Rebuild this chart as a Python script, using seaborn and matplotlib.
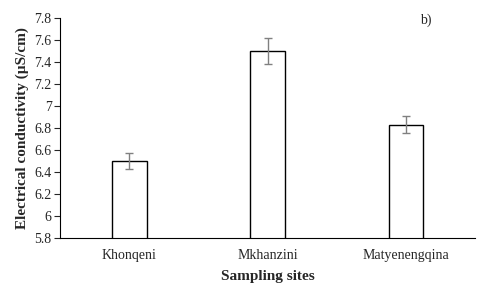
import matplotlib
matplotlib.use("Agg")
import matplotlib.pyplot as plt
import seaborn as sns
import pandas as pd

sites = ["Khonqeni", "Mkhanzini", "Matyenengqina"]
conductivity = [6.50, 7.50, 6.83]
errors = [0.07, 0.12, 0.08]
yticks = [5.8, 6.0, 6.2, 6.4, 6.6, 6.8, 7.0, 7.2, 7.4, 7.6, 7.8]

sns.set_theme(style="white")
plt.rcParams['font.family'] = ['Liberation Serif', 'DejaVu Serif']

df = pd.DataFrame({"site": sites, "ec": conductivity})

fig = plt.figure(figsize=(4.8, 2.87), dpi=100)
ax = fig.add_axes([0.125, 0.171, 0.865, 0.766])

sns.barplot(data=df, x="site", y="ec", ax=ax, color="white",
            edgecolor="black", linewidth=1.0, width=0.25)
ax.errorbar(range(len(sites)), conductivity, yerr=errors, fmt="none",
            ecolor="#808080", elinewidth=1.0, capsize=3, capthick=1.0)

ax.set_ylim(5.8, 7.8)
ax.set_xlim(-0.5, 2.5)
ax.set_yticks(yticks)
ax.set_yticklabels([f"{v:g}" for v in yticks], fontsize=10)
ax.tick_params(axis="y", direction="out", length=4, width=0.8, left=True, pad=2)
ax.tick_params(axis="x", length=0, labelsize=10, pad=8)
for lab in ax.get_xticklabels():
    lab.set_fontsize(10)

sns.despine(ax=ax)
ax.spines["left"].set_color("black")
ax.spines["bottom"].set_color("black")
ax.spines["left"].set_linewidth(0.8)
ax.spines["bottom"].set_linewidth(0.8)

ax.set_xlabel("Sampling sites", fontsize=11, fontweight="bold", labelpad=6)
ax.set_ylabel("Electrical conductivity (µS/cm)", fontsize=11, fontweight="bold", labelpad=4)
ax.text(0.867, 0.99, "b)", transform=ax.transAxes, fontsize=10, ha="left", va="center")

fig.savefig("out.png", dpi=100)
